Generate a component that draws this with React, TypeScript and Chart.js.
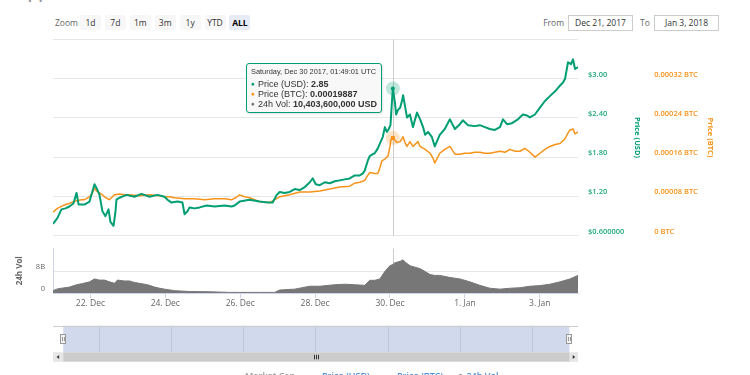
import React, { useEffect, useRef } from 'react';
import { Chart, registerables } from 'chart.js';

Chart.register(...registerables);

const FONT = '"Open Sans", "Liberation Sans", sans-serif';
const TIP_FONT = '"Liberation Sans", Arial, sans-serif';
const GREEN = '#009e73';
const ORANGE = '#f7931a';
const VOL_GRAY = '#777777';

// time axis: hours since 21 Dec 2017 00:00 UTC
const X_MIN = 0;
const X_MAX = 336.5;
const NAV_MIN = -6.8;
const NAV_MAX = 342.2;

const DATE_TICKS = [24, 72, 120, 168, 216, 264, 312];
const DATE_LABELS = ['22. Dec', '24. Dec', '26. Dec', '28. Dec', '30. Dec', '1. Jan', '3. Jan'];

const USD_TICKS = [0.6, 1.2, 1.8, 2.4, 3.0, 3.6];
const USD_TICK_LABELS = ['$0.600000', '$1.20', '$1.80', '$2.40', '$3.00', ''];
const BTC_TICKS = [0, 0.00008, 0.00016, 0.00024, 0.00032, 0.0004];
const BTC_TICK_LABELS = ['0 BTC', '0.00008 BTC', '0.00016 BTC', '0.00024 BTC', '0.00032 BTC', ''];
const VOL_TICKS = [0, 8e9];
const VOL_TICK_LABELS = ['0', '8B'];

const USD_TIMES = [
  0, 2.8, 5.4, 8.0, 10.5, 13.1, 15.1, 16.4, 20.2, 23.4, 26.6, 28.5, 29.8, 31.7, 33.6, 35.6, 36.8, 38.8, 40.0, 40.7,
  42.6, 47.1, 52.2, 56.7, 61.9, 67.0, 71.5, 73.4, 76.0, 79.8, 83.0, 84.3, 86.2, 87.5, 90.7, 94.0, 98.4, 103.6, 110.0,
  114.5, 116.4, 119.6, 126.0, 132.4, 137.6, 140.8, 143.4, 145.3, 148.5, 151.7, 154.9, 158.1, 161.4, 164.6, 166.5,
  168.4, 171.0, 174.2, 177.4, 180.6, 183.8, 187.0, 190.2, 193.4, 196.6, 198.5, 199.8, 201.7, 203.0, 205.0, 206.2,
  208.2, 209.5, 211.4, 212.7, 214.0, 215.2, 216.3, 217.0, 217.82, 219.2, 219.9, 221.2, 222.5, 223.8, 224.4, 225.6,
  226.9, 228.8, 230.7, 233.3, 235.3, 237.2, 238.5, 240.4, 242.8, 244.7, 246.0, 247.9, 251.1, 254.4, 257.6, 260.8,
  262.7, 265.9, 270.4, 273.6, 276.8, 280.0, 283.2, 286.5, 288.4, 291.0, 294.2, 298.0, 301.2, 303.8, 305.7, 308.9,
  312.1, 315.3, 318.5, 321.8, 325.0, 326.9, 328.2, 330.1, 332.0, 333.3, 334.6, 336.5,
];
const USD_VALUES = [
  0.778, 0.867, 1.0, 1.015, 1.044, 1.089, 1.252, 1.074, 1.074, 1.119, 1.385, 1.296, 1.222, 0.97, 0.896, 1.0, 0.807,
  0.748, 0.956, 1.148, 1.178, 1.222, 1.193, 1.237, 1.193, 1.222, 1.193, 1.148, 1.104, 1.119, 1.104, 0.926, 0.97, 1.03,
  1.015, 1.03, 1.059, 1.044, 1.059, 1.044, 1.059, 1.119, 1.148, 1.119, 1.104, 1.104, 1.222, 1.267, 1.252, 1.267,
  1.311, 1.296, 1.341, 1.415, 1.474, 1.385, 1.37, 1.415, 1.4, 1.43, 1.444, 1.459, 1.474, 1.519, 1.519, 1.548, 1.593,
  1.741, 1.815, 1.844, 1.859, 1.933, 2.007, 2.111, 2.259, 2.185, 2.23, 2.289, 2.556, 2.85, 2.63, 2.452, 2.526, 2.556,
  2.674, 2.748, 2.585, 2.407, 2.452, 2.259, 2.481, 2.378, 2.259, 2.141, 2.185, 2.111, 1.963, 2.037, 2.141, 2.23,
  2.378, 2.23, 2.304, 2.363, 2.289, 2.274, 2.289, 2.259, 2.23, 2.215, 2.259, 2.378, 2.304, 2.319, 2.378, 2.452, 2.437,
  2.407, 2.452, 2.556, 2.659, 2.733, 2.807, 2.896, 2.941, 3.0, 3.252, 3.222, 3.296, 3.148, 3.178,
];

const BTC_TIMES = [
  0, 2.8, 5.4, 8.0, 10.5, 13.1, 15.1, 18.2, 20.2, 23.4, 25.3, 26.6, 27.8, 29.8, 31.7, 33.0, 34.9, 36.2, 38.1, 39.4,
  42.6, 45.8, 49.0, 55.4, 61.9, 68.3, 71.5, 74.7, 77.9, 84.3, 90.7, 97.2, 103.6, 110.0, 114.5, 117.1, 119.6, 122.8,
  126.0, 132.4, 138.9, 142.1, 145.3, 151.7, 158.1, 164.6, 171.0, 177.4, 183.8, 190.2, 193.4, 196.6, 199.8, 201.7,
  203.0, 206.2, 208.2, 209.5, 210.8, 212.7, 214.7, 216.0, 216.6, 217.82, 220.5, 222.5, 224.4, 225.6, 226.9, 228.8,
  230.7, 233.9, 235.3, 238.5, 241.7, 243.5, 244.7, 246.0, 247.9, 251.1, 254.4, 257.6, 260.8, 264.0, 267.2, 270.4,
  273.6, 276.8, 280.0, 283.2, 286.5, 289.7, 292.9, 296.1, 299.3, 302.5, 305.7, 308.9, 312.1, 315.3, 318.5, 321.8,
  325.0, 328.2, 330.1, 331.4, 333.3, 334.6, 336.5,
];
const BTC_VALUES = [
  0.0000474, 0.0000553, 0.0000593, 0.0000632, 0.0000652, 0.0000691, 0.0000711, 0.0000731, 0.0000731, 0.000079,
  0.0000869, 0.0000968, 0.0000909, 0.0000869, 0.000083, 0.000079, 0.0000751, 0.0000731, 0.000079, 0.000083, 0.0000849,
  0.000083, 0.000083, 0.000081, 0.000083, 0.000081, 0.000079, 0.000079, 0.000077, 0.0000751, 0.0000751, 0.0000731,
  0.0000751, 0.0000751, 0.0000731, 0.000077, 0.000083, 0.000079, 0.000077, 0.0000691, 0.0000672, 0.0000731, 0.000079,
  0.000083, 0.0000889, 0.0000889, 0.0000909, 0.0000948, 0.0000988, 0.0001007, 0.0001067, 0.0001086, 0.0001126,
  0.0001225, 0.0001284, 0.0001264, 0.0001264, 0.0001383, 0.0001521, 0.000156, 0.000162, 0.0001817, 0.0001956,
  0.00019887, 0.0001896, 0.0001916, 0.0002015, 0.0001896, 0.0001817, 0.0001916, 0.0001817, 0.0001916, 0.0001817,
  0.0001758, 0.0001679, 0.000158, 0.0001481, 0.000156, 0.0001679, 0.0001758, 0.0001817, 0.0001659, 0.0001659,
  0.0001679, 0.0001679, 0.0001699, 0.0001699, 0.0001679, 0.0001679, 0.0001699, 0.0001719, 0.0001699, 0.0001758,
  0.0001719, 0.0001719, 0.0001778, 0.0001699, 0.00016, 0.0001679, 0.0001758, 0.0001817, 0.0001857, 0.0001877,
  0.0001975, 0.0002094, 0.0002153, 0.0002173, 0.0002074, 0.0002114,
];

const VOL_TIMES = [
  0, 2.8, 5.4, 10.5, 15.1, 18.9, 23.4, 26.6, 29.8, 33.0, 36.2, 39.4, 41.3, 45.8, 49.0, 52.2, 55.4, 58.7, 61.9, 65.1,
  68.3, 71.5, 77.9, 87.5, 100.3, 113.2, 119.6, 132.4, 142.1, 145.3, 154.9, 164.6, 171.0, 180.6, 187.0, 193.4, 199.8,
  203.0, 206.2, 209.5, 212.7, 215.9, 217.82, 219.2, 222.5, 224.4, 225.6, 228.8, 232.0, 235.3, 238.5, 241.7, 244.7,
  247.9, 254.4, 260.8, 267.2, 273.6, 280.0, 286.5, 292.9, 299.3, 305.7, 312.1, 318.5, 325.0, 331.4, 336.5,
];
const VOL_VALUES = [
  0.86e9, 1.5e9, 1.73e9, 2.14e9, 3.01e9, 3.42e9, 4.06e9, 5.12e9, 4.7e9, 4.7e9, 4.06e9, 3.52e9, 4.7e9, 4.38e9, 4.38e9,
  3.84e9, 3.52e9, 3.2e9, 2.78e9, 2.14e9, 1.73e9, 1.41e9, 0.86e9, 0.54e9, 0.45e9, 0.22e9, 0.22e9, 0.22e9, 0.22e9,
  1.09e9, 1.41e9, 2.46e9, 2.46e9, 3.01e9, 3.2e9, 3.01e9, 2.78e9, 4.61e9, 4.61e9, 5.12e9, 7.81e9, 9.92e9, 10403600000,
  11.01e9, 11.52e9, 12.06e9, 11.33e9, 9.92e9, 9.41e9, 8.86e9, 7.81e9, 6.72e9, 6.4e9, 6.4e9, 5.66e9, 5.12e9, 4.06e9,
  2.78e9, 1.73e9, 1.41e9, 1.73e9, 1.92e9, 2.46e9, 2.69e9, 3.2e9, 4.06e9, 5.12e9, 6.4e9,
];

const HOVER_TIME = 217.82;
const HOVER_LABEL = 'Saturday, Dec 30 2017, 01:49:01 UTC';
const ZOOM_BUTTONS = ['1d', '7d', '1m', '3m', '1y', 'YTD', 'ALL'];
const SELECTED_BUTTON = 'ALL';
const FROM_DATE = 'Dec 21, 2017';
const TO_DATE = 'Jan 3, 2018';
const LEGEND_LABELS = ['Market Cap', 'Price (USD)', 'Price (BTC)', '24h Vol'];

const toPoints = (t: number[], v: number[]) => t.map((x, i) => ({ x, y: v[i] }));

const crosshair = {
  id: 'crosshair',
  beforeDatasetsDraw(chart: any) {
    const { ctx, chartArea, scales } = chart;
    const x = Math.round(scales.x.getPixelForValue(HOVER_TIME)) + 0.5;
    ctx.save();
    ctx.strokeStyle = '#cccccc';
    ctx.lineWidth = 1;
    ctx.beginPath();
    ctx.moveTo(x, chartArea.top);
    ctx.lineTo(x, chartArea.bottom);
    ctx.stroke();
    ctx.restore();
  },
};

const hoverMarkers = {
  id: 'hoverMarkers',
  afterDatasetsDraw(chart: any) {
    const { ctx } = chart;
    const u = chart.getDatasetMeta(0).data[USD_TIMES.indexOf(HOVER_TIME)];
    const b = chart.getDatasetMeta(1).data[BTC_TIMES.indexOf(HOVER_TIME)];
    ctx.save();
    if (b) {
      ctx.fillStyle = 'rgba(247,147,26,0.25)';
      ctx.beginPath();
      ctx.arc(b.x, b.y, 7, 0, Math.PI * 2);
      ctx.fill();
      ctx.fillStyle = ORANGE;
      ctx.fillRect(b.x - 2, b.y - 2, 4, 4);
    }
    if (u) {
      ctx.fillStyle = 'rgba(0,158,115,0.25)';
      ctx.beginPath();
      ctx.arc(u.x, u.y, 7, 0, Math.PI * 2);
      ctx.fill();
      ctx.fillStyle = GREEN;
      ctx.beginPath();
      ctx.arc(u.x, u.y, 2, 0, Math.PI * 2);
      ctx.fill();
    }
    ctx.restore();
  },
};

const navigatorOverlay = {
  id: 'navigatorOverlay',
  beforeDatasetsDraw(chart: any) {
    const { ctx, chartArea: a, scales } = chart;
    const x0 = scales.x.getPixelForValue(X_MIN);
    const x1 = scales.x.getPixelForValue(X_MAX);
    ctx.save();
    ctx.fillStyle = 'rgba(102,133,194,0.3)';
    ctx.fillRect(x0, a.top, x1 - x0, a.bottom - a.top);
    ctx.strokeStyle = '#cccccc';
    ctx.lineWidth = 1;
    ctx.beginPath();
    ctx.moveTo(a.left, Math.round(a.top) + 0.5);
    ctx.lineTo(a.right, Math.round(a.top) + 0.5);
    ctx.stroke();
    // handles
    for (const hx of [x0, x1]) {
      const cx = Math.round(hx);
      const hy = Math.round(a.top + 8) + 0.5;
      ctx.fillStyle = '#f2f2f2';
      ctx.strokeStyle = '#999999';
      ctx.fillRect(cx - 3, hy, 6, 9);
      ctx.strokeRect(cx - 2.5, hy, 5, 9);
      ctx.beginPath();
      ctx.moveTo(cx - 0.5, hy + 2.5);
      ctx.lineTo(cx - 0.5, hy + 6.5);
      ctx.moveTo(cx + 1.5, hy + 2.5);
      ctx.lineTo(cx + 1.5, hy + 6.5);
      ctx.stroke();
    }
    // scrollbar
    const sy = a.bottom;
    const sh = 9.4;
    ctx.fillStyle = '#f2f2f2';
    ctx.fillRect(a.left, sy, a.right - a.left, sh);
    ctx.fillStyle = '#e6e6e6';
    ctx.fillRect(a.left, sy, x0 - a.left, sh);
    ctx.fillRect(x1, sy, a.right - x1, sh);
    ctx.fillStyle = '#cccccc';
    ctx.fillRect(x0, sy, x1 - x0, sh);
    ctx.strokeStyle = '#333333';
    const mid = Math.round((x0 + x1) / 2) + 0.5;
    ctx.beginPath();
    for (const d of [-2, 0, 2]) {
      ctx.moveTo(mid + d, sy + 2.5);
      ctx.lineTo(mid + d, sy + 7);
    }
    ctx.stroke();
    ctx.fillStyle = '#333333';
    const lx = (a.left + x0) / 2;
    const rx = (x1 + a.right) / 2;
    const cy = sy + sh / 2;
    ctx.beginPath();
    ctx.moveTo(lx - 1.5, cy);
    ctx.lineTo(lx + 1, cy - 2);
    ctx.lineTo(lx + 1, cy + 2);
    ctx.closePath();
    ctx.moveTo(rx + 1.5, cy);
    ctx.lineTo(rx - 1, cy - 2);
    ctx.lineTo(rx - 1, cy + 2);
    ctx.closePath();
    ctx.fill();
    ctx.restore();
  },
};

function priceConfig(): any {
  return {
    type: 'line',
    data: {
      datasets: [
        {
          label: 'Price (USD)',
          data: toPoints(USD_TIMES, USD_VALUES),
          yAxisID: 'usd',
          borderColor: GREEN,
          borderWidth: 2,
          pointRadius: 0,
          tension: 0,
          fill: false,
          borderJoinStyle: 'round',
        },
        {
          label: 'Price (BTC)',
          data: toPoints(BTC_TIMES, BTC_VALUES),
          yAxisID: 'btc',
          borderColor: ORANGE,
          borderWidth: 1.5,
          pointRadius: 0,
          tension: 0,
          fill: false,
          borderJoinStyle: 'round',
        },
      ],
    },
    plugins: [crosshair, hoverMarkers],
    options: {
      responsive: false,
      animation: false,
      events: [],
      layout: { padding: { left: 53, top: 39.5, right: 31.5, bottom: 8 } },
      plugins: { legend: { display: false }, tooltip: { enabled: false } },
      scales: {
        x: { type: 'linear', min: X_MIN, max: X_MAX, display: false },
        usd: {
          type: 'linear',
          position: 'right',
          weight: 1,
          min: 0.6,
          max: 3.6,
          afterBuildTicks: (s: any) => {
            s.ticks = USD_TICKS.map((value) => ({ value }));
          },
          afterFit: (s: any) => {
            s.width = 67.2;
          },
          grid: { color: '#e6e6e6', drawTicks: false, lineWidth: 1 },
          border: { display: false },
          ticks: {
            autoSkip: false,
            padding: 10,
            labelOffset: -4,
            color: '#22a97f',
            font: { family: FONT, size: 7.5, weight: 600 },
            callback: (_v: any, i: number) => USD_TICK_LABELS[i],
          },
          title: {
            display: true,
            text: 'Price (USD)',
            color: GREEN,
            font: { family: FONT, size: 7.5, weight: 'bold' },
            padding: { top: 4, bottom: 0 },
          },
        },
        btc: {
          type: 'linear',
          position: 'right',
          weight: 2,
          min: 0,
          max: 0.0004,
          afterBuildTicks: (s: any) => {
            s.ticks = BTC_TICKS.map((value) => ({ value }));
          },
          afterFit: (s: any) => {
            s.width = 73.3;
          },
          grid: { display: false, drawTicks: false },
          border: { display: false },
          ticks: {
            autoSkip: false,
            padding: 9,
            labelOffset: -4,
            color: ORANGE,
            font: { family: FONT, size: 7.5, weight: 600 },
            callback: (_v: any, i: number) => BTC_TICK_LABELS[i],
          },
          title: {
            display: true,
            text: 'Price (BTC)',
            color: ORANGE,
            font: { family: FONT, size: 7.5, weight: 'bold' },
            padding: { top: 4, bottom: 0 },
          },
        },
      },
    },
  };
}

function volumeConfig(): any {
  return {
    type: 'line',
    data: {
      datasets: [
        {
          label: '24h Vol',
          data: toPoints(VOL_TIMES, VOL_VALUES),
          yAxisID: 'vol',
          borderColor: VOL_GRAY,
          backgroundColor: VOL_GRAY,
          borderWidth: 1,
          pointRadius: 0,
          tension: 0,
          fill: 'origin',
        },
      ],
    },
    plugins: [crosshair],
    options: {
      responsive: false,
      animation: false,
      events: [],
      layout: { padding: { left: 0, top: 6, right: 172, bottom: 0 } },
      plugins: { legend: { display: false }, tooltip: { enabled: false } },
      scales: {
        x: {
          type: 'linear',
          position: 'bottom',
          min: X_MIN,
          max: X_MAX,
          afterBuildTicks: (s: any) => {
            s.ticks = DATE_TICKS.map((value) => ({ value }));
          },
          afterFit: (s: any) => {
            s.height = 23;
          },
          grid: { drawOnChartArea: false, drawTicks: true, tickLength: 5, color: '#ccd6eb' },
          border: { display: true, color: '#ccd6eb' },
          ticks: {
            autoSkip: false,
            maxRotation: 0,
            padding: 0,
            color: '#666666',
            font: { family: FONT, size: 8.5 },
            callback: (_v: any, i: number) => DATE_LABELS[i],
          },
        },
        vol: {
          type: 'linear',
          position: 'left',
          min: 0,
          max: 16.2e9,
          afterBuildTicks: (s: any) => {
            s.ticks = VOL_TICKS.map((value) => ({ value }));
          },
          afterFit: (s: any) => {
            s.width = 53;
          },
          grid: { color: '#e6e6e6', drawTicks: false },
          border: { display: true, color: '#ccd6eb' },
          ticks: {
            autoSkip: false,
            padding: 8,
            labelOffset: -4,
            color: '#666666',
            font: { family: FONT, size: 7.5 },
            callback: (_v: any, i: number) => VOL_TICK_LABELS[i],
          },
          title: {
            display: true,
            text: '24h Vol',
            color: '#666666',
            font: { family: FONT, size: 8, weight: 'bold' },
            padding: { top: 15.2, bottom: 0 },
          },
        },
      },
    },
  };
}

function navigatorConfig(): any {
  return {
    type: 'line',
    data: { datasets: [] },
    plugins: [navigatorOverlay],
    options: {
      responsive: false,
      animation: false,
      events: [],
      layout: { padding: { left: 53, top: 5.7, right: 172, bottom: 0 } },
      plugins: { legend: { display: false }, tooltip: { enabled: false } },
      scales: {
        x: {
          type: 'linear',
          position: 'bottom',
          min: NAV_MIN,
          max: NAV_MAX,
          afterBuildTicks: (s: any) => {
            s.ticks = DATE_TICKS.map((value) => ({ value }));
          },
          afterFit: (s: any) => {
            s.height = 13.7;
          },
          grid: { drawOnChartArea: true, drawTicks: false, color: '#e6e6e6' },
          border: { display: false },
          ticks: {
            autoSkip: false,
            maxRotation: 0,
            align: 'start',
            padding: -10.7,
            labelOffset: 2.4,
            color: '#999999',
            font: { family: FONT, size: 8.5 },
            callback: (_v: any, i: number) => DATE_LABELS[i],
          },
        },
        y: { display: false, min: 0, max: 1 },
      },
    },
  };
}

const abs = (s: React.CSSProperties): React.CSSProperties => ({ position: 'absolute', ...s });

export default function App() {
  const priceRef = useRef<HTMLCanvasElement>(null);
  const volRef = useRef<HTMLCanvasElement>(null);
  const navRef = useRef<HTMLCanvasElement>(null);

  useEffect(() => {
    const charts: Chart[] = [];
    if (priceRef.current) charts.push(new Chart(priceRef.current, priceConfig()));
    if (volRef.current) charts.push(new Chart(volRef.current, volumeConfig()));
    if (navRef.current) charts.push(new Chart(navRef.current, navigatorConfig()));
    return () => charts.forEach((c) => c.destroy());
  }, []);

  const usd = USD_VALUES[USD_TIMES.indexOf(HOVER_TIME)];
  const btc = BTC_VALUES[BTC_TIMES.indexOf(HOVER_TIME)];
  const vol = VOL_VALUES[VOL_TIMES.indexOf(HOVER_TIME)];

  const row: React.CSSProperties = {
    fontSize: 9,
    lineHeight: '10.3px',
    color: '#333',
    whiteSpace: 'nowrap',
    fontFamily: TIP_FONT,
  };
  const dot = (c: string) => <span style={{ color: c, fontSize: 6.5, marginRight: 3, verticalAlign: 1 }}>●</span>;
  const legendColors = ['#999999', '#4a8fd6', '#4a8fd6', '#4a8fd6'];
  const legendLeft = [245, 322, 397, 469];

  return (
    <div
      style={{
        position: 'absolute',
        left: 0,
        top: 0,
        width: 750,
        height: 375,
        overflow: 'hidden',
        background: '#ffffff',
        fontFamily: FONT,
      }}
    >
      <div style={abs({ left: 12, top: -18, fontSize: 17, lineHeight: '20px', color: '#999', fontWeight: 600 })}>
        Ripple Charts
      </div>

      <div style={abs({ left: 55, top: 15, height: 15, lineHeight: '15px', fontSize: 8.5, color: '#666' })}>Zoom</div>
      {ZOOM_BUTTONS.map((b, i) => (
        <div
          key={b}
          style={abs({
            left: 80 + i * 24.9,
            top: 15,
            width: 21,
            height: 15,
            lineHeight: '15px',
            textAlign: 'center',
            fontSize: 8.5,
            borderRadius: 2,
            background: b === SELECTED_BUTTON ? '#e6ebf5' : '#f7f7f7',
            color: b === SELECTED_BUTTON ? '#000' : '#333',
            fontWeight: b === SELECTED_BUTTON ? 700 : 400,
          })}
        >
          {b}
        </div>
      ))}

      <div style={abs({ left: 530, width: 34, top: 15, lineHeight: '15px', fontSize: 8.5, color: '#666', textAlign: 'right' })}>
        From
      </div>
      <div
        style={abs({
          left: 568,
          top: 14.5,
          width: 63,
          height: 14,
          lineHeight: '14px',
          border: '1px solid #cccccc',
          fontSize: 8.5,
          color: '#333',
          textAlign: 'center',
        })}
      >
        {FROM_DATE}
      </div>
      <div style={abs({ left: 640, top: 15, lineHeight: '15px', fontSize: 8.5, color: '#666' })}>To</div>
      <div
        style={abs({
          left: 654,
          top: 14.5,
          width: 63,
          height: 14,
          lineHeight: '14px',
          border: '1px solid #cccccc',
          fontSize: 8.5,
          color: '#333',
          textAlign: 'center',
        })}
      >
        {TO_DATE}
      </div>

      <canvas ref={priceRef} width={750} height={250} style={abs({ left: 0, top: 0, width: 750, height: 250 })} />
      <canvas ref={volRef} width={750} height={80} style={abs({ left: 0, top: 236, width: 750, height: 80 })} />
      <canvas ref={navRef} width={750} height={46} style={abs({ left: 0, top: 320, width: 750, height: 46 })} />

      <div
        style={abs({
          left: 246,
          top: 63,
          padding: '3px 4px 3px 4px',
          background: 'rgba(247,247,247,0.9)',
          border: `1px solid ${GREEN}`,
          borderRadius: 3,
          boxShadow: '1px 1px 2px rgba(0,0,0,0.12)',
        })}
      >
        <div
          style={{
            fontSize: 7.4,
            lineHeight: '10px',
            color: '#333',
            whiteSpace: 'nowrap',
            marginBottom: 1.5,
            fontFamily: TIP_FONT,
          }}
        >
          {HOVER_LABEL}
        </div>
        <div style={row}>
          {dot(GREEN)}Price (USD): <b>{String(usd)}</b>
        </div>
        <div style={row}>
          {dot(ORANGE)}Price (BTC): <b>{String(btc)}</b>
        </div>
        <div style={row}>
          {dot(VOL_GRAY)}24h Vol: <b>{vol.toLocaleString('en-US')} USD</b>
        </div>
      </div>

      {LEGEND_LABELS.map((l, i) => (
        <div
          key={l}
          style={abs({
            left: legendLeft[i],
            top: 370,
            fontSize: 9,
            lineHeight: '11px',
            color: legendColors[i],
            fontWeight: 600,
            whiteSpace: 'nowrap',
          })}
        >
          {i === 3 ? <span style={{ color: '#555', marginLeft: -11, marginRight: 3 }}>●</span> : null}
          {l}
        </div>
      ))}
    </div>
  );
}
